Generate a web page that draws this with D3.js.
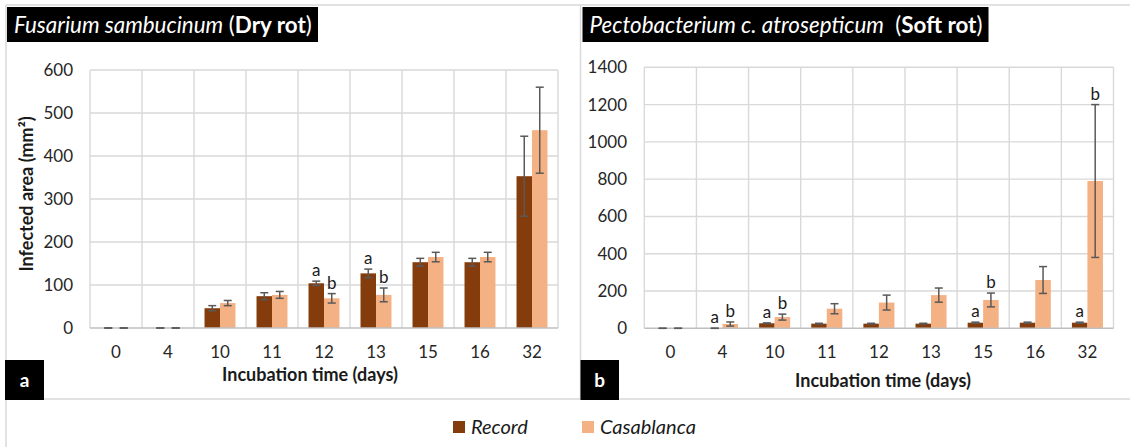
<!DOCTYPE html>
<html>
<head>
<meta charset="utf-8">
<script src="https://cdn.jsdelivr.net/npm/d3@7.9.0/dist/d3.min.js"></script>
<style>
  body { margin: 0; background: #fff; }
  svg { display: block; font-family: Lato, "Open Sans", sans-serif; }
</style>
</head>
<body>
<svg id="chart" width="1130" height="447"></svg>
<script>
// incubation days (categories)
const days = ['0', '4', '10', '11', '12', '13', '15', '16', '32'];
const seriesNames = ['Record', 'Casablanca'];
const seriesColors = ['#843C0C', '#F4B183'];

// Fusarium sambucinum (dry rot), infected area mm²
const dryRecord = [0, 0, 46, 74, 104, 127, 153, 153, 353];
const dryRecordErr = [0, 0, 6, 8, 5, 10, 9, 9, 93];
const dryCasablanca = [0, 0, 58, 77, 69, 77, 165, 165, 460];
const dryCasablancaErr = [0, 0, 6, 8, 11, 16, 11, 11, 100];
const dryRecordLetters = ['', '', '', '', 'a', 'a', '', '', ''];
const dryCasablancaLetters = ['', '', '', '', 'b', 'b', '', '', ''];
const dryTicks = [0, 100, 200, 300, 400, 500, 600];

// Pectobacterium c. atrosepticum (soft rot)
const softRecord = [0, 0, 27, 25, 25, 25, 30, 30, 30];
const softRecordErr = [0, 0, 2, 2, 2, 2, 3, 3, 3];
const softCasablanca = [0, 23, 60, 105, 138, 178, 152, 259, 790];
const softCasablancaErr = [0, 11, 16, 27, 40, 38, 37, 72, 410];
const softRecordLetters = ['', 'a', 'a', '', '', '', 'a', '', 'a'];
const softCasablancaLetters = ['', 'b', 'b', '', '', '', 'b', '', 'b'];
const softTicks = [0, 200, 400, 600, 800, 1000, 1200, 1400];

const svg = d3.select('#chart');
const frame = '#d9d9d9';

// outer frame lines
svg.append('line').attr('x1', 6).attr('x2', 1130).attr('y1', 5).attr('y2', 5)
    .attr('stroke', frame).attr('stroke-width', 1.5);
svg.append('line').attr('x1', 6).attr('x2', 6).attr('y1', 5).attr('y2', 447)
    .attr('stroke', frame).attr('stroke-width', 1.5);
svg.append('line').attr('x1', 580.5).attr('x2', 580.5).attr('y1', 5).attr('y2', 399)
    .attr('stroke', frame).attr('stroke-width', 1.5);
svg.append('line').attr('x1', 6).attr('x2', 1130).attr('y1', 399).attr('y2', 399)
    .attr('stroke', frame).attr('stroke-width', 1.5);

function drawPanel(p) {
    const g = svg.append('g');

    const x = d3.scaleBand().domain(days).range([p.left, p.right]);
    const xs = d3.scaleBand().domain(seriesNames).range([0, x.bandwidth()]).paddingOuter(0.68);
    const y = d3.scaleLinear().domain([0, d3.max(p.ticks)]).range([p.bottom, p.top]);

    // horizontal gridlines
    g.append('g').selectAll('line')
        .data(p.ticks.slice(1))
        .join('line')
        .attr('x1', p.left).attr('x2', p.right)
        .attr('y1', d => y(d)).attr('y2', d => y(d))
        .attr('stroke', '#d9d9d9').attr('stroke-width', 1.4);

    // vertical gridlines at category boundaries
    const edges = days.map(d => x(d)).concat([p.right]);
    g.append('g').selectAll('line')
        .data(edges)
        .join('line')
        .attr('x1', d => d).attr('x2', d => d)
        .attr('y1', y(d3.max(p.ticks))).attr('y2', p.bottom)
        .attr('stroke', '#d9d9d9').attr('stroke-width', 1.4);

    // bars
    const rows = [];
    days.forEach((day, i) => {
        p.series.forEach((s, j) => {
            rows.push({ day, name: seriesNames[j], color: seriesColors[j],
                value: s.values[i], err: s.errs[i], letter: s.letters[i] });
        });
    });

    g.append('g').selectAll('rect')
        .data(rows)
        .join('rect')
        .attr('x', d => x(d.day) + xs(d.name))
        .attr('width', xs.bandwidth())
        .attr('y', d => y(d.value))
        .attr('height', d => p.bottom - y(d.value))
        .attr('fill', d => d.color);

    // axis baseline
    g.append('line')
        .attr('x1', p.left).attr('x2', p.right)
        .attr('y1', p.bottom).attr('y2', p.bottom)
        .attr('stroke', '#bfbfbf').attr('stroke-width', 1.6);

    // error bars
    const eb = g.append('g').attr('stroke', '#595959').attr('stroke-width', 1.5);
    rows.forEach(d => {
        const cx = x(d.day) + xs(d.name) + xs.bandwidth() / 2;
        const hi = y(d.value + d.err);
        const lo = y(Math.max(0, d.value - d.err));
        eb.append('line').attr('x1', cx).attr('x2', cx).attr('y1', hi).attr('y2', lo);
        eb.append('line').attr('x1', cx - 4).attr('x2', cx + 4).attr('y1', hi).attr('y2', hi);
        eb.append('line').attr('x1', cx - 4).attr('x2', cx + 4).attr('y1', lo).attr('y2', lo);
    });

    // significance letters
    g.append('g').selectAll('text')
        .data(rows.filter(d => d.letter))
        .join('text')
        .attr('x', d => x(d.day) + xs(d.name) + xs.bandwidth() / 2)
        .attr('y', d => y(d.value + d.err) - 5)
        .attr('text-anchor', 'middle')
        .attr('font-size', 17)
        .attr('fill', '#1a1a1a')
        .text(d => d.letter);

    // y tick labels
    g.append('g').selectAll('text')
        .data(p.ticks)
        .join('text')
        .attr('x', p.tickX)
        .attr('y', d => y(d) + 6)
        .attr('text-anchor', 'end')
        .attr('font-size', 17)
        .attr('fill', '#262626')
        .text(d => d);

    // x tick labels
    g.append('g').selectAll('text')
        .data(days)
        .join('text')
        .attr('x', d => x(d) + x.bandwidth() / 2)
        .attr('y', 358)
        .attr('text-anchor', 'middle')
        .attr('font-size', 17)
        .attr('fill', '#262626')
        .text(d => d);

    // x axis title
    g.append('text')
        .attr('x', p.xTitleX)
        .attr('y', p.xTitleY)
        .attr('text-anchor', 'middle')
        .attr('font-size', 18)
        .attr('font-weight', 'bold')
        .attr('fill', '#1a1a1a')
        .text('Incubation time (days)');

    // title box
    g.append('rect')
        .attr('x', p.titleBox[0]).attr('y', 7)
        .attr('width', p.titleBox[1] - p.titleBox[0]).attr('height', 35)
        .attr('fill', '#000');
    const t = g.append('text')
        .attr('x', p.titleBox[0] + 7).attr('y', 33)
        .attr('font-size', 22.4)
        .attr('fill', '#fff');
    t.append('tspan').attr('font-style', 'italic').text(p.titleItalic);
    t.append('tspan').text(p.titleGap + '(');
    t.append('tspan').attr('font-weight', 'bold').text(p.titleBold);
    t.append('tspan').text(')');

    // panel letter box
    g.append('rect')
        .attr('x', p.tagBox[0]).attr('y', 360)
        .attr('width', p.tagBox[1] - p.tagBox[0]).attr('height', 40)
        .attr('fill', '#000');
    g.append('text')
        .attr('x', (p.tagBox[0] + p.tagBox[1]) / 2).attr('y', 387)
        .attr('text-anchor', 'middle')
        .attr('font-size', 19)
        .attr('font-weight', 'bold')
        .attr('fill', '#fff')
        .text(p.tag);

    return g;
}

drawPanel({
    left: 90, right: 558, top: 70, bottom: 328,
    ticks: dryTicks, tickX: 73,
    series: [
        { values: dryRecord, errs: dryRecordErr, letters: dryRecordLetters },
        { values: dryCasablanca, errs: dryCasablancaErr, letters: dryCasablancaLetters },
    ],
    xTitleX: 310, xTitleY: 381,
    titleBox: [7, 318], titleItalic: 'Fusarium sambucinum', titleGap: ' ', titleBold: 'Dry rot',
    tagBox: [5, 44], tag: 'a',
});

drawPanel({
    left: 644.3, right: 1113.5, top: 67.3, bottom: 328.3,
    ticks: softTicks, tickX: 627,
    series: [
        { values: softRecord, errs: softRecordErr, letters: softRecordLetters },
        { values: softCasablanca, errs: softCasablancaErr, letters: softCasablancaLetters },
    ],
    xTitleX: 883, xTitleY: 386.5,
    titleBox: [582.5, 988.5], titleItalic: 'Pectobacterium c. atrosepticum', titleGap: '\u00a0\u00a0', titleBold: 'Soft rot',
    tagBox: [580.5, 619], tag: 'b',
});

// y axis title (left panel only)
svg.append('text')
    .attr('transform', 'translate(33,194) rotate(-90)')
    .attr('text-anchor', 'middle')
    .attr('font-size', 18)
    .attr('font-weight', 'bold')
    .attr('fill', '#1a1a1a')
    .text('Infected area (mm²)');

// legend
const legend = svg.append('g');
const legendX = [453, 582];
seriesNames.forEach((name, i) => {
    legend.append('rect')
        .attr('x', legendX[i]).attr('y', 421)
        .attr('width', 12).attr('height', 12)
        .attr('fill', seriesColors[i]);
    legend.append('text')
        .attr('x', legendX[i] + 18).attr('y', 434)
        .attr('font-size', 20)
        .attr('font-style', 'italic')
        .attr('fill', '#1a1a1a')
        .text(name);
});
</script>
</body>
</html>
